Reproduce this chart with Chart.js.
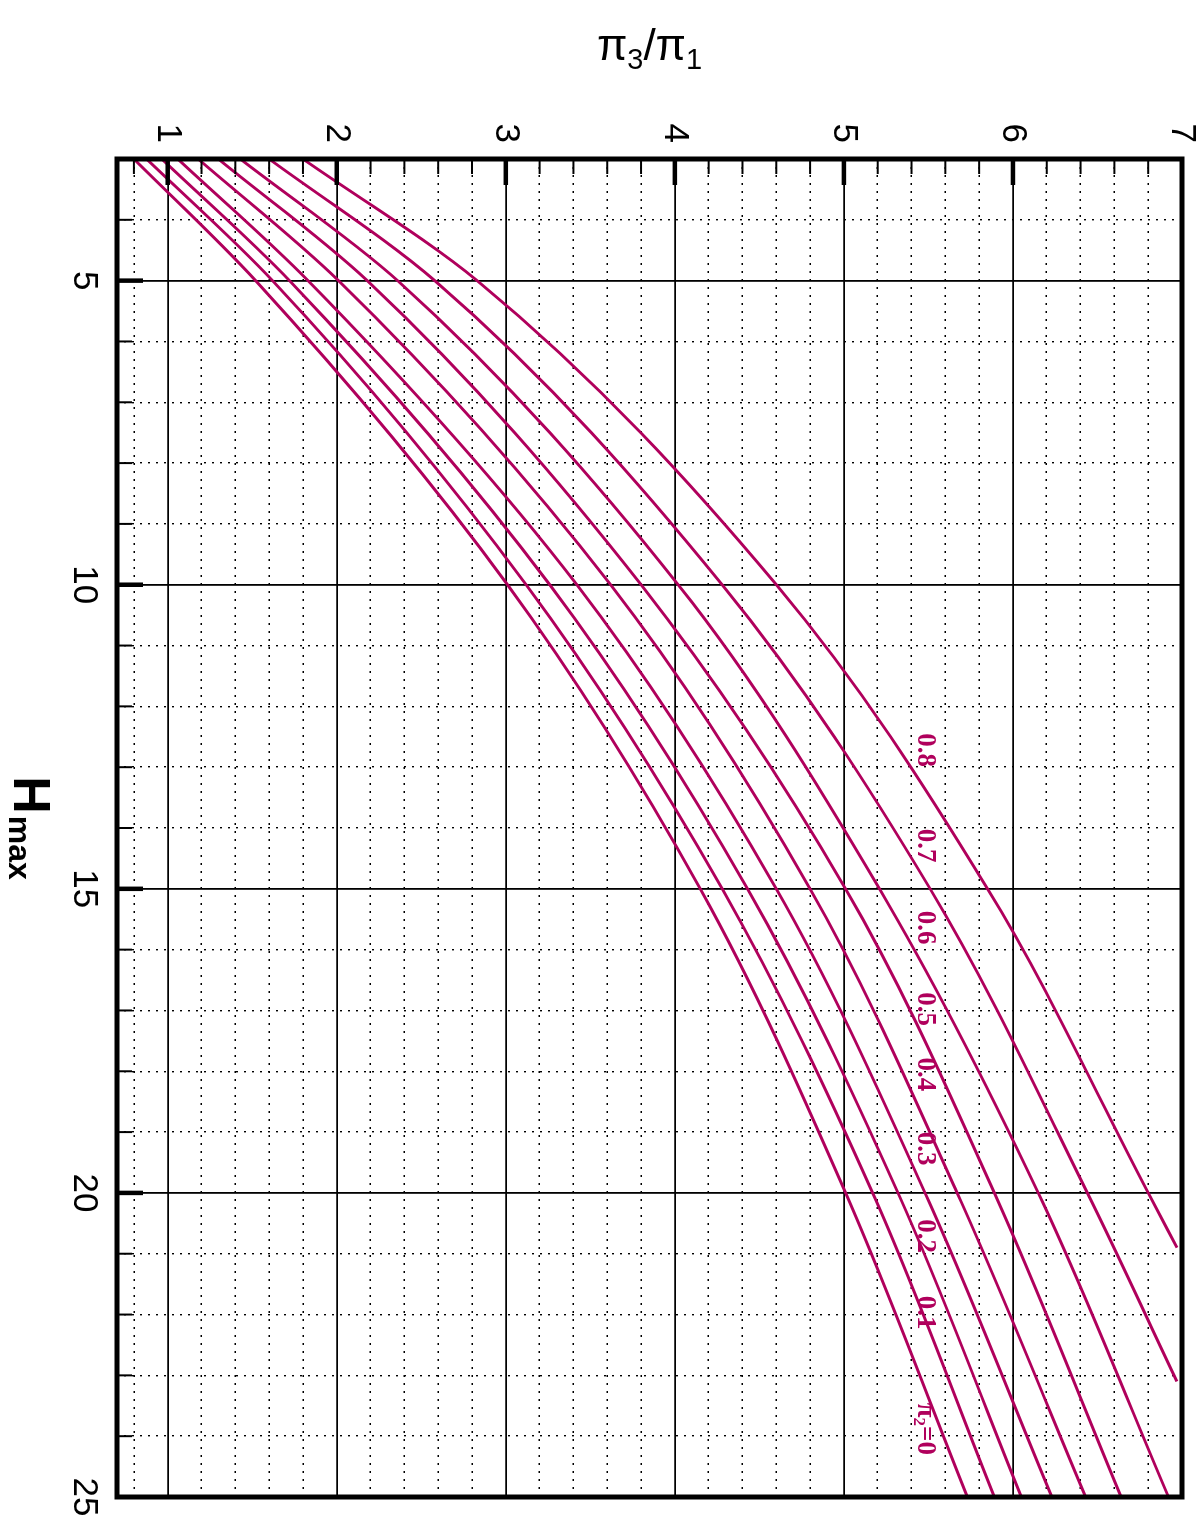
<!DOCTYPE html>
<html><head><meta charset="utf-8">
<script src="https://cdn.jsdelivr.net/npm/chart.js@4.4.1/dist/chart.umd.min.js"></script>
<style>
html,body{margin:0;padding:0;background:#fff;overflow:hidden;width:1200px;height:1524px;}
#wrap{position:absolute;left:0;top:0;width:1524px;height:1200px;transform-origin:0 0;transform:translate(1200px,0) rotate(90deg);}
canvas{display:block;}
</style></head><body>
<div id="wrap"><canvas id="c" width="1524" height="1200"></canvas></div>
<script>
// ---- data (H_max along one axis, pi3/pi1 along the other) ----
const hMax = [3, 5, 10, 15, 20, 25];
const pi2Values = ['0', '0.1', '0.2', '0.3', '0.4', '0.5', '0.6', '0.7', '0.8'];
const r_pi2_00 = [0.80, 1.52, 3.01, 4.15, 5.01, 5.73];
const r_pi2_01 = [0.875, 1.62, 3.12, 4.28, 5.17, 5.89];
const r_pi2_02 = [0.965, 1.72, 3.26, 4.43, 5.32, 6.05];
const r_pi2_03 = [1.06, 1.83, 3.42, 4.60, 5.48, 6.23];
const r_pi2_04 = [1.18, 2.01, 3.62, 4.80, 5.67, 6.43];
const r_pi2_05 = [1.30, 2.18, 3.80, 5.01, 5.89, 6.64];
const r_pi2_06 = [1.43, 2.36, 4.02, 5.21, 6.15, 6.92];
const r_pi2_07 = [1.60, 2.58, 4.28, 5.51, 6.44, 6.97];
const r_pi2_08 = [1.80, 2.83, 4.60, 5.85, 6.80, 6.97];
const lastH = [25, 25, 25, 25, 25, 25, 25, 23.1, 20.9];
const hTickLabels = ['5', '10', '15', '20', '25'];
const rTickLabels = ['1', '2', '3', '4', '5', '6', '7'];
const curveLabelH = [23.88, 21.97, 20.71, 19.27, 18.05, 16.98, 15.64, 14.29, 12.72];
const curveLabelR = 5.48;

const series = [r_pi2_00, r_pi2_01, r_pi2_02, r_pi2_03, r_pi2_04, r_pi2_05, r_pi2_06, r_pi2_07, r_pi2_08];
const CURVE = '#b0005c';
const hTicks = []; for (let h = 3; h <= 25; h++) hTicks.push(h);
const rTicks = []; for (let k = 4; k <= 35; k++) rTicks.push(Math.round(k * 2) / 10);
const isInt = v => Math.abs(v - Math.round(v)) < 1e-6;
const hMajor = v => hTickLabels.includes(String(Math.round(v))) && isInt(v);
const rMajor = v => isInt(v) && rTickLabels.includes(String(Math.round(v)));

const datasets = series.map((arr, i) => ({
  label: 'π2=' + pi2Values[i],
  data: arr.map((r, j) => ({x: j === arr.length - 1 ? lastH[i] : hMax[j], y: r})),
  showLine: true, borderColor: CURVE, borderWidth: 2.9, pointRadius: 0,
  cubicInterpolationMode: 'monotone', fill: false
}));

const decor = {
  id: 'decor',
  afterDatasetsDraw(chart) {
    const {ctx, chartArea: a, scales: {x, y}} = chart;
    ctx.save();
    // inner ticks
    ctx.strokeStyle = '#000';
    hTicks.forEach(v => {
      if (v <= 3 || v >= 25) return;
      const p = x.getPixelForValue(v), M = hMajor(v);
      ctx.lineWidth = M ? 4.5 : 2; ctx.beginPath();
      ctx.moveTo(p, a.bottom); ctx.lineTo(p, a.bottom - (M ? 26 : 15)); ctx.stroke();
    });
    rTicks.forEach(v => {
      if (v >= 7) return;
      const p = y.getPixelForValue(v), M = rMajor(v);
      ctx.lineWidth = M ? 4.5 : 2; ctx.beginPath();
      ctx.moveTo(a.left, p); ctx.lineTo(a.left + (M ? 26 : 15), p); ctx.stroke();
    });
    // frame
    ctx.lineWidth = 5; ctx.strokeRect(a.left, a.top, a.right - a.left, a.bottom - a.top);
    // curve labels
    ctx.fillStyle = CURVE; ctx.textBaseline = 'middle';
    const big = 'bold 27px "Liberation Serif", "DejaVu Serif", serif';
    const small = 'bold 17px "Liberation Serif", "DejaVu Serif", serif';
    curveLabelH.forEach((h, i) => {
      const cx = x.getPixelForValue(h), cy = y.getPixelForValue(curveLabelR);
      if (i === 0) {
        ctx.font = big; const w1 = ctx.measureText('π').width, w3 = ctx.measureText('=' + pi2Values[0]).width;
        ctx.font = small; const w2 = ctx.measureText('2').width;
        let s = cx - (w1 + w2 + w3) / 2;
        ctx.textAlign = 'left';
        ctx.font = big; ctx.fillText('π', s, cy);
        ctx.font = small; ctx.fillText('2', s + w1, cy + 7);
        ctx.font = big; ctx.fillText('=' + pi2Values[0], s + w1 + w2, cy);
      } else {
        ctx.font = big; ctx.textAlign = 'center';
        ctx.fillText(pi2Values[i], cx, cy);
      }
    });
    // axis titles
    ctx.fillStyle = '#000'; ctx.textAlign = 'left'; ctx.textBaseline = 'alphabetic';
    // H_max (below the H axis)
    const hc = (a.left + a.right) / 2;
    const FH = 'bold 52px "Liberation Sans", Arial, sans-serif', FM = 'bold 32px "Liberation Sans", Arial, sans-serif';
    ctx.font = FH; const wH = ctx.measureText('H').width;
    ctx.font = FM; const wM = ctx.measureText('max').width;
    const s0 = hc - (wH + wM + 2) / 2;
    ctx.font = FH; ctx.fillText('H', s0, a.bottom + 103);
    ctx.font = FM; ctx.fillText('max', s0 + wH + 2, a.bottom + 108);
    // pi3/pi1 (left of the ratio axis, rotated)
    const vc = (a.top + a.bottom) / 2;
    ctx.translate(60, vc); ctx.rotate(-Math.PI / 2);
    const F = '44px "Liberation Sans", Arial, sans-serif', f = '29px "Liberation Sans", Arial, sans-serif';
    const parts = [['π', F, 0], ['3', f, 9], ['/', F, 0], ['π', F, 0], ['1', f, 9]];
    let tw = 0; parts.forEach(p => { ctx.font = p[1]; tw += ctx.measureText(p[0]).width; });
    let px = -tw / 2;
    parts.forEach(p => { ctx.font = p[1]; ctx.fillText(p[0], px, p[2]); px += ctx.measureText(p[0]).width; });
    ctx.restore();
  }
};

new Chart(document.getElementById('c'), {
  type: 'scatter',
  data: {datasets},
  options: {
    responsive: false, animation: false, devicePixelRatio: 1,
    layout: {padding: 0},
    plugins: {legend: {display: false}, tooltip: {enabled: false}},
    scales: {
      x: {
        type: 'linear', position: 'bottom', min: 3, max: 25,
        afterBuildTicks: s => { s.ticks = hTicks.map(v => ({value: v})); },
        afterFit: s => { s.height = 117; s.paddingRight = 27; s.paddingLeft = 0; },
        ticks: {autoSkip: false, maxRotation: 0, minRotation: 0, padding: 12, color: '#000',
          font: {family: '"Liberation Sans", Arial, sans-serif', size: 35},
          callback: v => hMajor(v) ? hTickLabels[hTickLabels.indexOf(String(Math.round(v)))] : ''},
        grid: {drawTicks: false, color: '#000', lineWidth: c => (c.tick && hMajor(c.tick.value)) ? 1.8 : 1.4},
        border: {display: false, dash: c => (c.tick && !hMajor(c.tick.value)) ? [2, 6] : []}
      },
      y: {
        type: 'linear', position: 'left', min: 0.7, max: 7,
        afterBuildTicks: s => { s.ticks = rTicks.map(v => ({value: v})); },
        afterFit: s => { s.width = 159; s.paddingTop = 18; s.paddingBottom = 0; },
        ticks: {autoSkip: false, maxRotation: 0, minRotation: 0, padding: 16, color: '#000',
          font: {family: '"Liberation Sans", Arial, sans-serif', size: 35},
          callback: v => rMajor(v) ? rTickLabels[Math.round(v) - 1] : ''},
        grid: {drawTicks: false, color: '#000', lineWidth: c => (c.tick && rMajor(c.tick.value)) ? 1.8 : 1.4},
        border: {display: false, dash: c => (c.tick && !rMajor(c.tick.value)) ? [2, 6] : []}
      }
    }
  },
  plugins: [decor]
});
</script>
</body></html>
